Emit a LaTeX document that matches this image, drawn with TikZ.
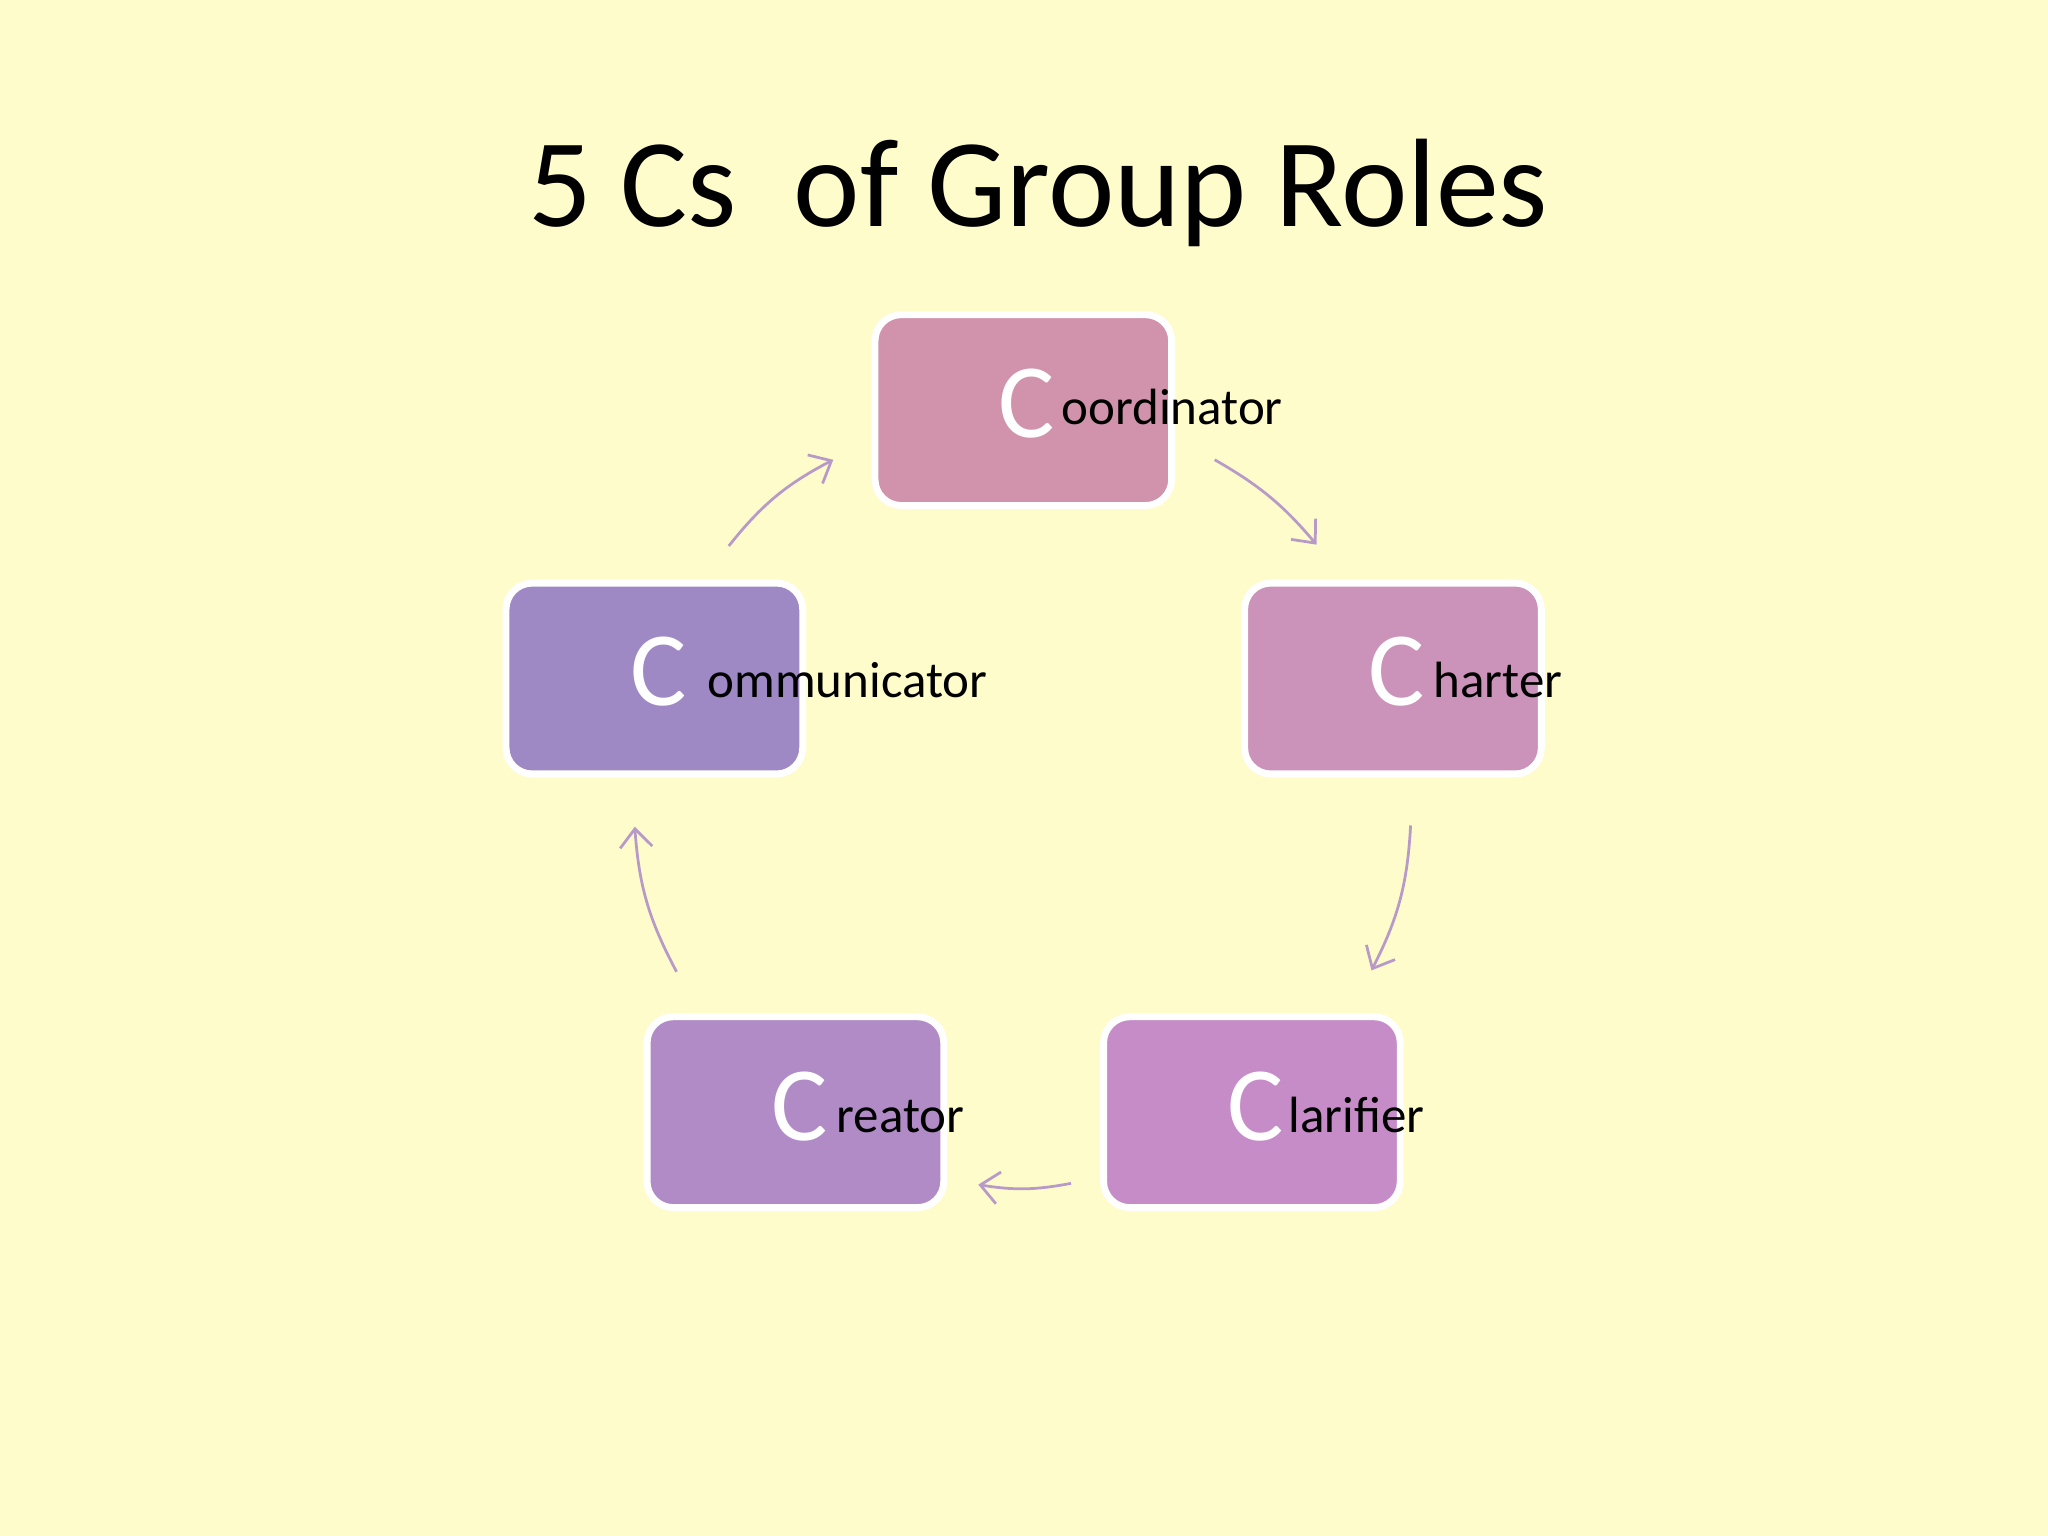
\documentclass[tikz,border=0pt]{standalone}
\usepackage{fontspec}
\setmainfont{Carlito}
\usetikzlibrary{arrows.meta}
\definecolor{bg}{HTML}{FEFCCB}
\definecolor{ca}{HTML}{D093AB}
\definecolor{cb}{HTML}{CB92BA}
\definecolor{cc}{HTML}{C68CC8}
\definecolor{cd}{HTML}{B18BC6}
\definecolor{ce}{HTML}{9E89C4}
\definecolor{arr}{HTML}{B89AC8}
\tikzset{
 rolebox/.style={draw=white,line width=1.5pt,rounded corners=20*0.01cm,minimum width=2.27cm,minimum height=1.46cm,inner sep=0},
 bigc/.style={anchor=base west,inner sep=0,text=white,font=\fontsize{23}{23}\selectfont},
 lbl/.style={anchor=base west,inner sep=0,font=\fontsize{11.1}{11.1}\selectfont},
 cyc/.style={draw=arr,line width=0.6pt,-{Straight Barb[length=4pt,width=7pt]}}
}
\begin{document}
\begin{tikzpicture}[x=0.01cm,y=-0.01cm]
\fill[bg] (0,0) rectangle (1568,1176);
\node[font=\fontsize{27.4}{27.4}\selectfont] (title) at (795,148) {5 Cs\ \ of Group Roles};
\node[rolebox,fill=ca] (b1) at (783.5,314) {};
\node[rolebox,fill=cb] (b2) at (1066.5,519.5) {};
\node[rolebox,fill=cc] (b3) at (958.5,851.5) {};
\node[rolebox,fill=cd] (b4) at (609,851.5) {};
\node[rolebox,fill=ce] (b5) at (501,519.5) {};
\node[bigc] (c1) at (764,335) {C}; \node[lbl] (l1) at (812,325) {oordinator};
\node[bigc] (c2) at (1047,540) {C}; \node[lbl] (l2) at (1097,534) {harter};
\node[bigc] (c3) at (939,873) {C}; \node[lbl] (l3) at (986,867) {larifier};
\node[bigc] (c4) at (590,873) {C}; \node[lbl] (l4) at (640,867) {reator};
\node[bigc] (c5) at (482,540) {C}; \node[lbl] (l5) at (541,534) {ommunicator};
\coordinate (a1s) at (558,418); \coordinate (a1e) at (638,352);
\coordinate (a2s) at (930,352); \coordinate (a2e) at (1008,417);
\coordinate (a3s) at (1080,632); \coordinate (a3e) at (1050,743);
\coordinate (a4s) at (820,906); \coordinate (a4e) at (749,907);
\coordinate (a5s) at (518,744); \coordinate (a5e) at (486,633);
\draw[cyc] (a1s) to[bend left=12] (a1e);
\draw[cyc] (a2s) to[bend left=10] (a2e);
\draw[cyc] (a3s) to[bend left=12] (a3e);
\draw[cyc] (a4s) to[bend left=10] (a4e);
\draw[cyc] (a5s) to[bend left=12] (a5e);
\end{tikzpicture}
\end{document}
